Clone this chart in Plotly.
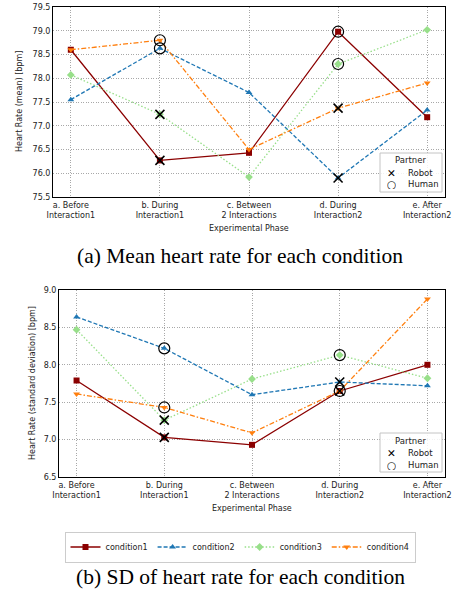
import plotly.graph_objects as go

phases = ["a. Before<br>Interaction1", "b. During<br>Interaction1", "c. Between<br>2 Interactions",
          "d. During<br>Interaction2", "e. After<br>Interaction2"]
conditions = ["condition1", "condition2", "condition3", "condition4"]

mean_c1 = [78.60, 76.27, 76.43, 78.98, 77.18]
mean_c2 = [77.55, 78.63, 77.70, 75.90, 77.33]
mean_c3 = [78.07, 77.24, 75.92, 78.30, 79.02]
mean_c4 = [78.60, 78.80, 76.50, 77.37, 77.90]

sd_c1 = [7.79, 7.03, 6.93, 7.65, 8.00]
sd_c2 = [8.64, 8.22, 7.60, 7.77, 7.72]
sd_c3 = [8.47, 7.26, 7.81, 8.13, 7.82]
sd_c4 = [7.61, 7.43, 7.09, 7.65, 8.88]

# partner during interaction phases (b, d) per condition
partner_b = ["Robot", "Human", "Robot", "Human"]
partner_d = ["Human", "Robot", "Human", "Robot"]
partner_labels = ["Robot", "Human"]
partner_glyphs = ["\u2715", "\u25cb"]

colors = ["#8b0000", "#1f77b4", "#98df8a", "#ff7f0e"]
dashes = ["solid", "4px,2px", "1.5px,2px", "5px,2px,1.5px,2px"]
symbols = ["square", "triangle-up", "diamond", "triangle-down"]

mean_all = [mean_c1, mean_c2, mean_c3, mean_c4]
sd_all = [sd_c1, sd_c2, sd_c3, sd_c4]

ROBOT_M = dict(symbol="x-thin-open", size=9, color="black", line=dict(color="black", width=1.6))
HUMAN_M = dict(symbol="circle-open", size=11, color="black", line=dict(color="black", width=1.2))

fig = go.Figure()

for row, data in [(1, mean_all), (2, sd_all)]:
    xa = "x" if row == 1 else "x2"
    ya = "y" if row == 1 else "y2"
    for i, vals in enumerate(data):
        fig.add_trace(go.Scatter(
            x=phases, y=vals, mode="lines+markers", name=conditions[i],
            line=dict(color=colors[i], dash=dashes[i], width=1.3),
            marker=dict(symbol=symbols[i], size=6, color=colors[i]),
            xaxis=xa, yaxis=ya, showlegend=(row == 2)))
    for i, vals in enumerate(data):
        for idx, p in [(1, partner_b[i]), (3, partner_d[i])]:
            m = ROBOT_M if p == "Robot" else HUMAN_M
            fig.add_trace(go.Scatter(x=[phases[idx]], y=[vals[idx]], mode="markers", marker=m,
                                     xaxis=xa, yaxis=ya, showlegend=False, hoverinfo="skip"))

W, H = 452, 590
tickfont = dict(family="DejaVu Sans", size=8, color="#222")
common_x = dict(type="category", range=[-0.2, 4.2], showline=True, linecolor="black", linewidth=1, mirror=True,
                showgrid=True, gridcolor="#a8a8a8", griddash="1px,1.5px", gridwidth=0.8,
                ticks="", tickfont=tickfont, automargin=False)
common_y = dict(showline=True, linecolor="black", linewidth=1, mirror=True,
                showgrid=True, gridcolor="#a8a8a8", griddash="1px,1.5px", gridwidth=0.8,
                ticks="", tickfont=tickfont, automargin=False, zeroline=False)

fig.update_layout(
    width=W, height=H, margin=dict(l=0, r=0, t=0, b=0),
    paper_bgcolor="white", plot_bgcolor="white",
    xaxis=dict(common_x, domain=[53 / W, 445 / W], anchor="y"),
    yaxis=dict(common_y, domain=[1 - 197 / H, 1 - 7 / H], range=[75.5, 79.5], dtick=0.5, tickformat=".1f", anchor="x"),
    xaxis2=dict(common_x, domain=[59 / W, 445 / W], anchor="y2"),
    yaxis2=dict(common_y, domain=[1 - 477 / H, 1 - 290 / H], range=[6.5, 9.0], dtick=0.5, tickformat=".1f", anchor="x2"),
    legend=dict(orientation="h", x=240 / W, y=1 - 547 / H, xanchor="center", yanchor="middle",
                bordercolor="#cccccc", borderwidth=1, bgcolor="white",
                font=dict(family="DejaVu Sans", size=8, color="#222"), itemwidth=30),
    showlegend=True,
)

# Partner legend boxes (drawn manually for compact matplotlib-like look)
lfont = dict(family="DejaVu Sans", size=8.5, color="#222")
shapes = []
for top in [153, 433]:
    shapes.append(dict(type="rect", xref="paper", yref="paper", layer="above",
                       x0=380 / W, x1=442 / W, y0=1 - (top + 39) / H, y1=1 - top / H,
                       line=dict(color="#c4c4c4", width=1), fillcolor="rgba(255,255,255,0.85)"))
    fig.add_annotation(text="Partner", x=410 / W, y=1 - (top + 7) / H, xanchor="center", font=lfont, height=11)
    for k, (lab, g) in enumerate(zip(partner_labels, partner_glyphs)):
        yy = 1 - (top + 19 + 12 * k) / H
        fig.add_annotation(text=g, x=391 / W, y=yy, xanchor="center", height=11,
                           font=dict(family="DejaVu Sans", size=10.5, color="black"))
        fig.add_annotation(text=lab, x=406 / W, y=yy, xanchor="left", font=lfont, height=11)
fig.update_layout(shapes=shapes)

axis_title_font = dict(family="DejaVu Sans", size=8, color="#222")
annots = [
    dict(text="Heart Rate (mean) [bpm]", x=20 / W, y=1 - 102 / H, textangle=-90, font=axis_title_font),
    dict(text="Heart Rate (standard deviation) [bpm]", x=32 / W, y=1 - 383 / H, textangle=-90, font=axis_title_font),
    dict(text="Experimental Phase", x=249 / W, y=1 - 228 / H, font=axis_title_font),
    dict(text="Experimental Phase", x=252 / W, y=1 - 508 / H, font=axis_title_font),
    dict(text="(a) Mean heart rate for each condition", x=240 / W, y=1 - 256 / H,
         font=dict(family="Liberation Serif", size=21.5, color="black")),
    dict(text="(b) SD of heart rate for each condition", x=240 / W, y=1 - 577 / H,
         font=dict(family="Liberation Serif", size=21.5, color="black")),
]
for a in annots:
    fig.add_annotation(dict(a, xanchor="center"))
fig.update_annotations(xref="paper", yref="paper", showarrow=False, yanchor="middle")

fig.write_html("out.html", config={"displayModeBar": False},
               post_script="document.body.style.margin='0';document.body.style.overflow='hidden';")
